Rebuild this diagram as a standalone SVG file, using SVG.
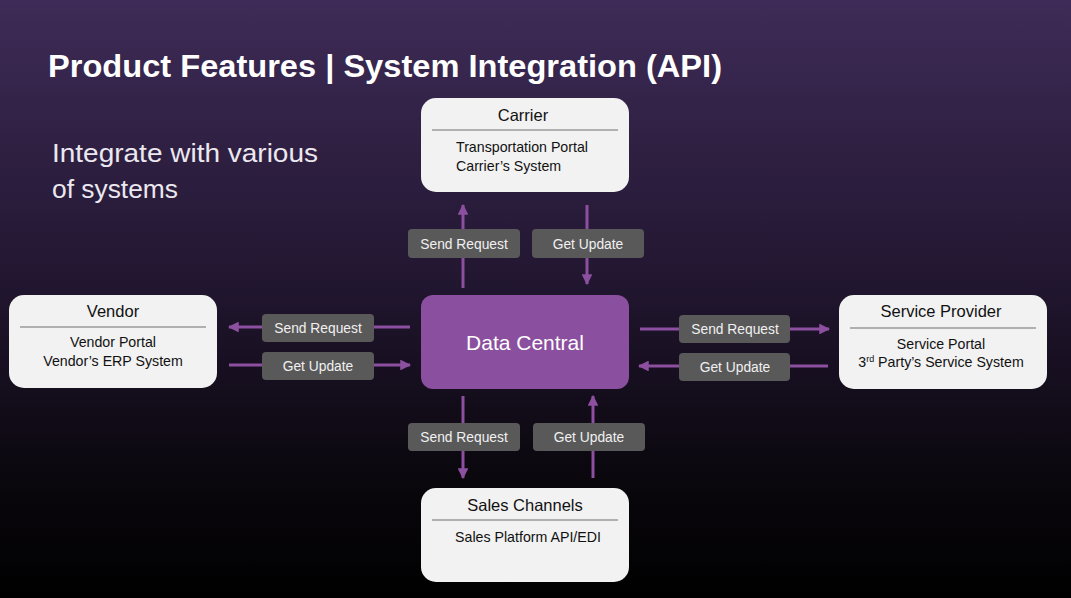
<svg xmlns="http://www.w3.org/2000/svg" width="1071" height="598" viewBox="0 0 1071 598">
<defs>
<linearGradient id="bg" x1="0" y1="0" x2="0" y2="1">
<stop offset="0" stop-color="#3e2b57"/>
<stop offset="0.45" stop-color="#231732"/>
<stop offset="0.8" stop-color="#0a070d"/>
<stop offset="1" stop-color="#000000"/>
</linearGradient>
<marker id="ah" viewBox="0 0 10 10" refX="9" refY="5" markerWidth="3.6" markerHeight="3.6" orient="auto" markerUnits="strokeWidth">
<path d="M0,0 L10,5 L0,10 z" fill="#8d4fa0"/>
</marker>
<style>
.box{fill:#f2f2f2;}
.sep{stroke:#9a9a9a;stroke-width:1.5;}
.t{font-family:"Liberation Sans",Arial,sans-serif;fill:#111;}
.h{font-size:16.5px;text-anchor:middle;}
.s{font-size:14.2px;}
.lb{fill:#595959;}
.lt{font-family:"Liberation Sans",Arial,sans-serif;font-size:13.8px;fill:#f0f0f0;text-anchor:middle;}
.ar{stroke:#8d4fa0;stroke-width:3;fill:none;marker-end:url(#ah);}
</style>
</defs>
<rect width="1071" height="598" fill="url(#bg)"/>
<text x="48" y="77" font-family="'Liberation Sans',Arial,sans-serif" font-weight="bold" font-size="31" fill="#ffffff" textLength="674" lengthAdjust="spacingAndGlyphs">Product Features | System Integration (API)</text>
<text font-family="'Liberation Sans',Arial,sans-serif" font-size="26" fill="#ece8f0"><tspan x="52" y="162" textLength="266" lengthAdjust="spacingAndGlyphs">Integrate with various</tspan><tspan x="52" y="198" textLength="126" lengthAdjust="spacingAndGlyphs">of systems</tspan></text>

<g id="connectors">
<line class="ar" x1="463" y1="288" x2="463" y2="205"/>
<line class="ar" x1="587" y1="205" x2="587" y2="284"/>
<line class="ar" x1="410" y1="327" x2="229" y2="327"/>
<line class="ar" x1="229" y1="365" x2="410" y2="365"/>
<line class="ar" x1="640" y1="329" x2="829" y2="329"/>
<line class="ar" x1="828" y1="366" x2="639" y2="366"/>
<line class="ar" x1="463" y1="396" x2="463" y2="478"/>
<line class="ar" x1="593" y1="478" x2="593" y2="396"/>
<rect class="lb" x="408" y="229" width="112" height="29" rx="4"/>
<text class="lt" x="464" y="249">Send Request</text>
<rect class="lb" x="532" y="229" width="112" height="29" rx="4"/>
<text class="lt" x="588" y="249">Get Update</text>
<rect class="lb" x="262" y="314" width="112" height="28" rx="4"/>
<text class="lt" x="318" y="333">Send Request</text>
<rect class="lb" x="262" y="352" width="112" height="28" rx="4"/>
<text class="lt" x="318" y="371">Get Update</text>
<rect class="lb" x="679" y="315" width="111" height="28" rx="4"/>
<text class="lt" x="735" y="334">Send Request</text>
<rect class="lb" x="679" y="353" width="111" height="28" rx="4"/>
<text class="lt" x="735" y="372">Get Update</text>
<rect class="lb" x="408" y="423" width="112" height="28" rx="4"/>
<text class="lt" x="464" y="442">Send Request</text>
<rect class="lb" x="533" y="423" width="112" height="28" rx="4"/>
<text class="lt" x="589" y="442">Get Update</text>
</g>

<g id="carrier">
<rect class="box" x="421" y="98" width="208" height="94" rx="15"/>
<text class="t h" x="523" y="121">Carrier</text>
<line class="sep" x1="432" y1="130" x2="618" y2="130"/>
<text class="t s" x="456" y="152">Transportation Portal</text>
<text class="t s" x="456" y="171">Carrier’s System</text>
</g>

<g id="data-central">
<rect x="421" y="295" width="208" height="94" rx="12" fill="#8a4f9e"/>
<text x="525" y="350" font-family="'Liberation Sans',Arial,sans-serif" font-size="21" fill="#ffffff" text-anchor="middle">Data Central</text>
</g>

<g id="vendor">
<rect class="box" x="9" y="295" width="208" height="93" rx="15"/>
<text class="t h" x="113" y="317">Vendor</text>
<line class="sep" x1="20" y1="327" x2="206" y2="327"/>
<text class="t s" x="113" y="347" text-anchor="middle">Vendor Portal</text>
<text class="t s" x="113" y="366" text-anchor="middle">Vendor’s ERP System</text>
</g>

<g id="service-provider">
<rect class="box" x="839" y="295" width="208" height="94" rx="15"/>
<text class="t h" x="941" y="317">Service Provider</text>
<line class="sep" x1="850" y1="328" x2="1036" y2="328"/>
<text class="t s" x="941" y="349" text-anchor="middle">Service Portal</text>
<text class="t s" x="941" y="367" text-anchor="middle">3<tspan font-size="9" dy="-5">rd</tspan><tspan dy="5"> Party’s Service System</tspan></text>
</g>

<g id="sales-channels">
<rect class="box" x="421" y="488" width="208" height="94" rx="15"/>
<text class="t h" x="525" y="511">Sales Channels</text>
<line class="sep" x1="432" y1="520" x2="618" y2="520"/>
<text class="t s" x="528" y="542" text-anchor="middle">Sales Platform API/EDI</text>
</g>
</svg>
